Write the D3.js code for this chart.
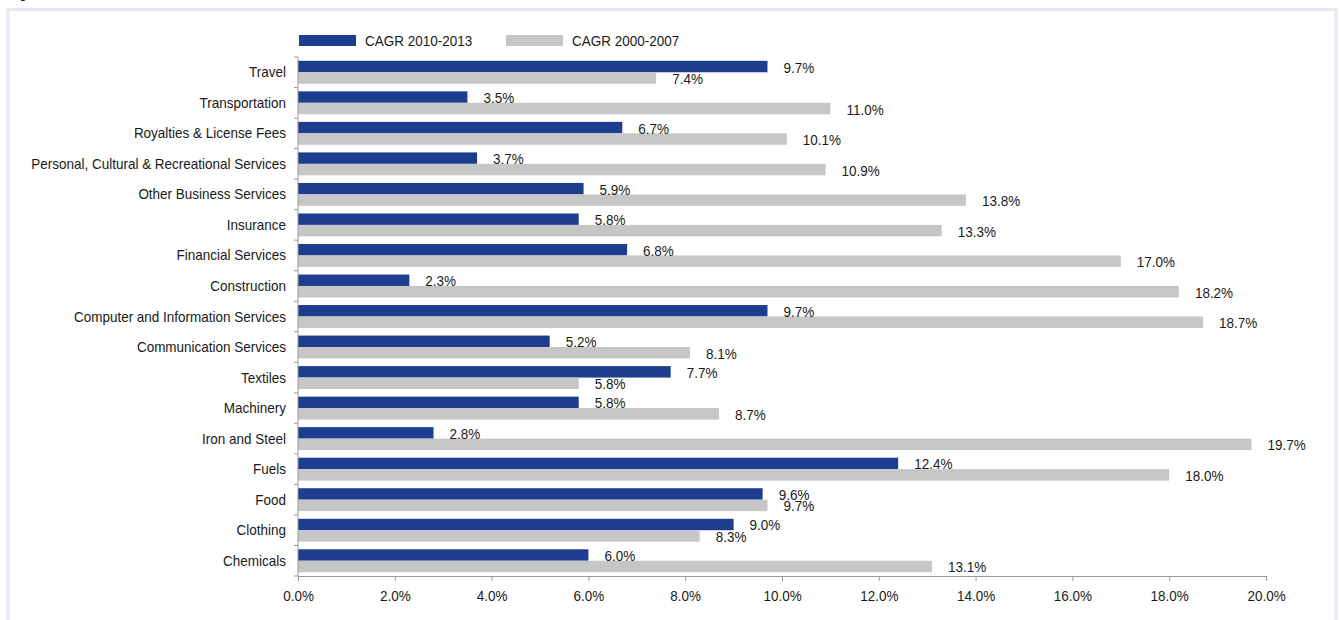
<!DOCTYPE html>
<html>
<head>
<meta charset="utf-8">
<script src="https://cdn.jsdelivr.net/npm/d3@7"></script>
<style>
  body { margin: 0; background: #fff; }
  svg text { font-family: "Liberation Sans", Arial, sans-serif; font-size: 15px; fill: #1a1a1a; }
</style>
</head>
<body>
<svg id="chart" width="1340" height="620"></svg>
<script>
// Chart data
const categories = [
  "Travel", "Transportation", "Royalties & License Fees",
  "Personal, Cultural & Recreational Services", "Other Business Services",
  "Insurance", "Financial Services", "Construction",
  "Computer and Information Services", "Communication Services",
  "Textiles", "Machinery", "Iron and Steel", "Fuels", "Food",
  "Clothing", "Chemicals"
];
const cagr2010_2013 = [9.7, 3.5, 6.7, 3.7, 5.9, 5.8, 6.8, 2.3, 9.7, 5.2, 7.7, 5.8, 2.8, 12.4, 9.6, 9.0, 6.0];
const cagr2000_2007 = [7.4, 11.0, 10.1, 10.9, 13.8, 13.3, 17.0, 18.2, 18.7, 8.1, 5.8, 8.7, 19.7, 18.0, 9.7, 8.3, 13.1];
const seriesNames = ["CAGR 2010-2013", "CAGR 2000-2007"];
const xTicks = [0, 2, 4, 6, 8, 10, 12, 14, 16, 18, 20];

const colors = ["#1d3d8f", "#c6c6c6"];
const narrow = 0.9; // condensed look, no narrow font installed
const svg = d3.select("#chart");

// place a horizontally condensed text
function placeText(sel, fx, fy) {
  return sel.attr("transform", (d, i) => `translate(${fx(d, i)},${fy(d, i)}) scale(${narrow},1)`);
}

// outer frame + cropped figure title
svg.append("rect")
  .attr("x", 8).attr("y", 9.5)
  .attr("width", 1328).attr("height", 640)
  .attr("fill", "none")
  .attr("stroke", "#e6e6f4")
  .attr("stroke-width", 3);
svg.append("text").attr("transform", `translate(8,-2) scale(${narrow},1)`).text("Figure");

const plotLeft = 298, plotRight = 1266, plotTop = 57, plotBottom = 576;

const x = d3.scaleLinear().domain([0, 20]).range([plotLeft, plotRight]);
const y = d3.scaleBand().domain(categories).range([plotTop, plotBottom]).paddingInner(0.25).paddingOuter(0.125);
const ySub = d3.scaleBand().domain([0, 1]).range([0, y.bandwidth()]);

const rows = categories.map((c, i) => ({ cat: c, values: [cagr2010_2013[i], cagr2000_2007[i]] }));

// bars
const groups = svg.append("g").selectAll("g")
  .data(rows)
  .join("g")
  .attr("transform", d => `translate(0,${y(d.cat)})`);

groups.selectAll("rect")
  .data(d => d.values.map((v, k) => ({ v, k })))
  .join("rect")
  .attr("x", x(0))
  .attr("y", d => ySub(d.k))
  .attr("width", d => x(d.v) - x(0))
  .attr("height", ySub.bandwidth())
  .attr("fill", d => colors[d.k]);

groups.selectAll("text")
  .data(d => d.values.map((v, k) => ({ v, k })))
  .join("text")
  .call(placeText, d => x(d.v) + 16, d => ySub(d.k) + ySub.bandwidth() / 2 + 6)
  .text(d => d.v.toFixed(1) + "%");

// y axis: labels centered, ticks at band boundaries
const step = y.step();
const yAxis = svg.append("g");
yAxis.append("line")
  .attr("x1", plotLeft).attr("x2", plotLeft)
  .attr("y1", plotTop).attr("y2", plotBottom)
  .attr("stroke", "#9a9a9a");
yAxis.selectAll("line.tick")
  .data(d3.range(categories.length + 1))
  .join("line")
  .attr("class", "tick")
  .attr("x1", plotLeft - 4).attr("x2", plotLeft)
  .attr("y1", i => plotTop + i * step).attr("y2", i => plotTop + i * step)
  .attr("stroke", "#9a9a9a");
yAxis.selectAll("text")
  .data(categories)
  .join("text")
  .call(placeText, () => plotLeft - 12, d => y(d) + y.bandwidth() / 2 + 5)
  .attr("text-anchor", "end")
  .text(d => d);

// x axis
const xAxis = svg.append("g")
  .attr("transform", `translate(0,${plotBottom})`)
  .call(d3.axisBottom(x).tickValues(xTicks).tickSize(5).tickPadding(9).tickFormat(d => d.toFixed(1) + "%"));
xAxis.select(".domain").attr("stroke", "#9a9a9a");
xAxis.selectAll(".tick line").attr("stroke", "#9a9a9a");
xAxis.selectAll(".tick text")
  .attr("transform", `scale(${narrow},1)`)
  .style("font-size", "15px")
  .style("font-family", "'Liberation Sans', Arial, sans-serif")
  .attr("fill", "#1a1a1a");

// legend
const legend = svg.append("g").attr("transform", "translate(299,35)");
const legendX = [0, 207];
seriesNames.forEach((name, k) => {
  legend.append("rect")
    .attr("x", legendX[k]).attr("y", 0)
    .attr("width", 57).attr("height", 11)
    .attr("fill", colors[k]);
  legend.append("text")
    .attr("transform", `translate(${legendX[k] + 66},10.5) scale(${narrow},1)`)
    .text(name);
});
</script>
</body>
</html>
